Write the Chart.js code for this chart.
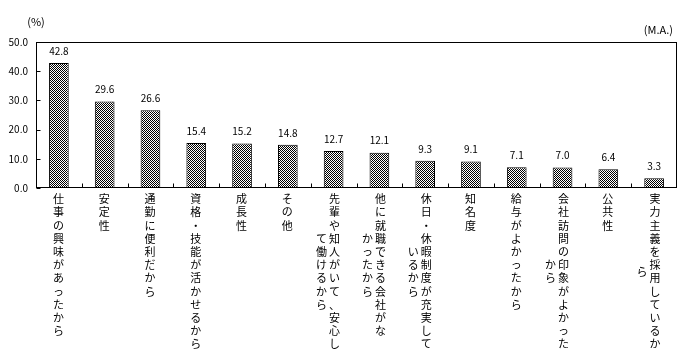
<!DOCTYPE html>
<html>
<head>
<meta charset="utf-8">
<script src="https://cdn.jsdelivr.net/npm/chart.js@4/dist/chart.umd.min.js"></script>
<style>
  body { margin: 0; background: #fff; }
</style>
</head>
<body>
<canvas id="chartContainer" width="687" height="361"></canvas>
<script>
// each reason is written vertically; long ones wrap into a second column (right column first)
const categories = [
  ['仕事の興味があったから'],
  ['安定性'],
  ['通勤に便利だから'],
  ['資格・技能が活かせるから'],
  ['成長性'],
  ['その他'],
  ['先輩や知人がいて、安心し', 'て働けるから'],
  ['他に就職できる会社がな', 'かったから'],
  ['休日・休暇制度が充実して', 'いるから'],
  ['知名度'],
  ['給与がよかったから'],
  ['会社訪問の印象がよかった', 'から'],
  ['公共性'],
  ['実力主義を採用しているか', 'ら']
];
const values = [42.8, 29.6, 26.6, 15.4, 15.2, 14.8, 12.7, 12.1, 9.3, 9.1, 7.1, 7.0, 6.4, 3.3];
const yTicks = [0, 10, 20, 30, 40, 50];

const numFont = '10px "Noto Sans CJK JP"';
const jpFont = '11px "Noto Sans CJK JP"';

let canvas = document.getElementById('chartContainer');
let ctx = canvas.getContext('2d');

// fine 1px checker fill like the original bars
let pat = document.createElement('canvas');
pat.width = 2;
pat.height = 2;
let pctx = pat.getContext('2d');
pctx.fillStyle = '#fff';
pctx.fillRect(0, 0, 2, 2);
pctx.fillStyle = '#000';
pctx.fillRect(0, 0, 1, 1);
pctx.fillRect(1, 1, 1, 1);
let hatch = ctx.createPattern(pat, 'repeat');

// frame, inward ticks, value labels and the vertical category text
const decor = {
  id: 'decor',
  afterDraw(chart) {
    const c = chart.ctx;
    const a = chart.chartArea;
    const x = chart.scales.x;
    const y = chart.scales.y;
    c.save();
    c.strokeStyle = '#000';
    c.lineWidth = 1;
    const L = Math.round(a.left) + 0.5, R = Math.round(a.right) - 0.5;
    const T = Math.round(a.top) + 0.5, B = Math.round(a.bottom) - 0.5;
    c.strokeRect(L, T, R - L, B - T);

    c.beginPath();
    yTicks.forEach(v => {
      const py = Math.round(y.getPixelForValue(v)) + 0.5;
      c.moveTo(L, py);
      c.lineTo(L + 4, py);
    });
    for (let i = 1; i < categories.length; i++) {
      const px = Math.round((x.getPixelForValue(i - 1) + x.getPixelForValue(i)) / 2) + 0.5;
      c.moveTo(px, B);
      c.lineTo(px, B - 4);
    }
    c.stroke();

    c.fillStyle = '#000';
    c.textAlign = 'center';
    c.textBaseline = 'middle';
    c.font = numFont;
    chart.getDatasetMeta(0).data.forEach((bar, i) => {
      c.fillText(values[i].toFixed(1), bar.x, bar.y - 12);
    });

    c.font = jpFont;
    const step = 13.2;
    categories.forEach((cols, i) => {
      const cx = x.getPixelForValue(i);
      const first = [...cols[0]];
      const colX = cols.length > 1 ? [cx + 1, cx - 12] : [cx - 0.5];
      cols.forEach((col, k) => {
        const chars = [...col];
        const off = k === 0 ? 0 : (first.length - chars.length) / 2;
        chars.forEach((ch, r) => {
          c.fillText(ch, colX[k], a.bottom + 11 + (r + off) * step);
        });
      });
    });

    c.font = '11px "Noto Sans CJK JP"';
    c.fillText('(%)', 36, 22);
    c.textAlign = 'right';
    c.fillText('(M.A.)', 673, 30);
    c.restore();
  }
};

let chart = new Chart(ctx, {
  type: 'bar',
  data: {
    labels: categories,
    datasets: [{
      data: values,
      backgroundColor: hatch,
      borderColor: '#000',
      borderWidth: 1,
      barPercentage: 0.43,
      categoryPercentage: 1
    }]
  },
  options: {
    responsive: false,
    animation: false,
    layout: { padding: { top: 42, right: 10, left: 0, bottom: 0 } },
    plugins: {
      legend: { display: false },
      tooltip: { enabled: false }
    },
    scales: {
      x: {
        grid: { display: false, drawTicks: false },
        border: { display: false },
        ticks: { display: false },
        afterFit: s => { s.height = 173; }
      },
      y: {
        min: 0,
        max: 50,
        grid: { display: false, drawTicks: false },
        border: { display: false },
        ticks: {
          stepSize: 10,
          padding: 8,
          color: '#000',
          font: { family: 'Noto Sans CJK JP', size: 10 },
          callback: v => v.toFixed(1)
        },
        afterFit: s => { s.width = 36; }
      }
    }
  },
  plugins: [decor]
});
</script>
</body>
</html>
